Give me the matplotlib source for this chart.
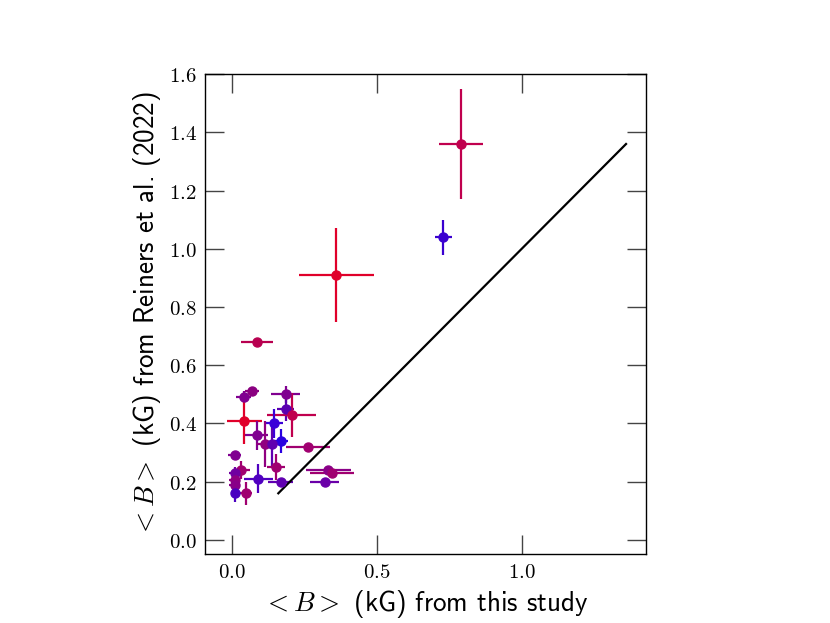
import matplotlib
matplotlib.use('Agg')
import matplotlib.pyplot as plt
import numpy as np

plt.rcParams['mathtext.fontset'] = 'cm'

# <B> values (kG): this study vs Reiners et al. (2022)
b_this = [0.79, 0.73, 0.36, 0.085, 0.04, 0.07, 0.185, 0.185, 0.206, 0.042,
          0.146, 0.085, 0.169, 0.114, 0.137, 0.263, 0.009, 0.032, 0.009, 0.152,
          0.333, 0.345, 0.09, 0.169, 0.321, 0.009, 0.009, 0.009, 0.048]
b_this_err = [0.076, 0.03, 0.13, 0.055, 0.025, 0.025, 0.05, 0.03, 0.085, 0.06,
              0.03, 0.04, 0.025, 0.03, 0.03, 0.076, 0.023, 0.03, 0.02, 0.03,
              0.078, 0.076, 0.05, 0.043, 0.05, 0.02, 0.02, 0.01, 0.02]
b_rein = [1.36, 1.04, 0.91, 0.68, 0.49, 0.51, 0.50, 0.45, 0.43, 0.41,
          0.40, 0.36, 0.34, 0.33, 0.33, 0.32, 0.29, 0.24, 0.23, 0.25,
          0.24, 0.23, 0.21, 0.20, 0.20, 0.205, 0.19, 0.16, 0.16]
b_rein_err = [0.19, 0.06, 0.16, 0.01, 0.02, 0.015, 0.03, 0.04, 0.075, 0.08,
              0.05, 0.05, 0.04, 0.08, 0.08, 0.01, 0.01, 0.03, 0.02, 0.045,
              0.01, 0.01, 0.05, 0.01, 0.01, 0.02, 0.02, 0.03, 0.04]
colors = ['#c0004e', '#3a00d0', '#e0002a', '#b80050', '#800090', '#8a0080',
          '#800090', '#5a00b0', '#c0004e', '#e0002a', '#3a00d8', '#800090',
          '#2a00e0', '#900080', '#6000b0', '#a00070', '#800090', '#a00070',
          '#7000a0', '#a00070', '#8a0088', '#a00070', '#5000c0', '#6000b0',
          '#6a00a8', '#900080', '#880088', '#4a00c0', '#a00070']

one_to_one = [0.16, 1.36]

fig = plt.figure(figsize=(8.3, 6.23), dpi=100)
ax = fig.add_axes([0.247, 0.111, 0.531, 0.770])

for x, xe, y, ye, c in zip(b_this, b_this_err, b_rein, b_rein_err, colors):
    ax.errorbar(x, y, xerr=xe, yerr=ye, fmt='o', color=c, ms=6.5, elinewidth=1.6,
                capsize=0)

ax.plot(one_to_one, one_to_one, color='black', lw=1.6)

ax.set_xlim(-0.093, 1.428)
ax.set_ylim(-0.048, 1.6)
ax.set_xticks([0.0, 0.5, 1.0])
ax.set_yticks(np.arange(0.0, 1.61, 0.2))
ax.set_xticklabels(['$0.0$', '$0.5$', '$1.0$'])
ax.set_yticklabels(['$%.1f$' % v for v in np.arange(0.0, 1.61, 0.2)])
ax.tick_params(direction='in', length=14, width=1, color='#444444',
               top=True, right=True, labelsize=15, pad=6)
for s in ax.spines.values():
    s.set_linewidth(1.0)

ax.set_xlabel(r'$<B>$ (kG) from this study', fontsize=19.5, family='cmss10')
ax.set_ylabel(r'$<B>$ (kG) from Reiners et al. (2022)', fontsize=19.5, family='cmss10')

fig.savefig('out.png', dpi=100)
